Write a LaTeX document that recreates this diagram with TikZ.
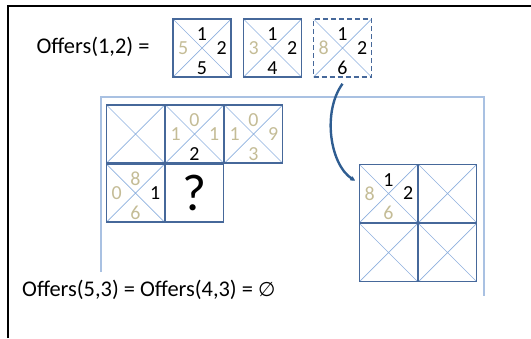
\documentclass[tikz,border=0pt]{standalone}
\usepackage{fontspec}
\setmainfont{Carlito}
\newfontfamily\symfont{DejaVu Sans}
\usepackage{tikz}
\usepackage{xcolor}
\usetikzlibrary{arrows,arrows.meta,positioning}

\definecolor{boxblue}{HTML}{46689A}
\definecolor{diagblue}{HTML}{8DB0DE}
\definecolor{bracketblue}{HTML}{A9C1E2}
\definecolor{tannum}{HTML}{C4BC96}
\definecolor{arrowblue}{HTML}{2F5D91}

\begin{document}
\begin{tikzpicture}[x=1bp,y=-1bp,every node/.style={inner sep=0pt},
xcell/.style={draw=boxblue,line width=1.5bp,minimum size=58bp,
 path picture={\draw[diagblue,line width=0.7bp,solid]
 (path picture bounding box.north west) -- (path picture bounding box.south east)
 (path picture bounding box.north east) -- (path picture bounding box.south west);}},
num/.style={font=\fontsize{20}{20}\selectfont},
tan/.style={num,text=tannum},
lbl/.style={font=\fontsize{22.5}{22.5}\selectfont}]
\useasboundingbox (0,0) rectangle (531,338);
% frame and bracket
\draw[black,line width=2.6bp] (8,338) -- (8,6) -- (531,6);
\draw[bracketblue,line width=2.6bp] (101,272) -- (101,97) -- (484,97) -- (484,296);
% Offers(1,2)
\node[lbl] (offa) at (93,47) {Offers(1,2) =};
\node (b1) at (202,48) [xcell] {};
\node (b2) at (272.5,48) [xcell] {};
\node (b3) at (342.5,48) [xcell,dash pattern=on 5bp off 3bp] {};
\node[num] (b1t) at ([yshift=-16bp]b1.north) {1};
\node[num] (b1r) at ([xshift=-10bp]b1.east) {2};
\node[num] (b1b) at ([yshift=10bp]b1.south) {5};
\node[tan] (b1l) at ([xshift=11bp]b1.west) {5};
\node[num] (b2t) at ([yshift=-16bp]b2.north) {1};
\node[num] (b2r) at ([xshift=-10bp]b2.east) {2};
\node[num] (b2b) at ([yshift=10bp]b2.south) {4};
\node[tan] (b2l) at ([xshift=11bp]b2.west) {3};
\node[num] (b3t) at ([yshift=-16bp]b3.north) {1};
\node[num] (b3r) at ([xshift=-10bp]b3.east) {2};
\node[num] (b3b) at ([yshift=10bp]b3.south) {6};
\node[tan] (b3l) at ([xshift=11bp]b3.west) {8};
% left grid
\node (g11) at (135.5,134) [xcell] {};
\node (g12) at (194.5,134) [xcell] {};
\node (g13) at (253.5,134) [xcell] {};
\node (g21) at (135.5,193) [xcell] {};
\node (g22) at (194.5,193) [draw=boxblue,line width=1.5bp,minimum size=58bp] {};
\node[tan] (g12t) at ([yshift=-16bp]g12.north) {0};
\node[tan] (g12r) at ([xshift=-10bp]g12.east) {1};
\node[num] (g12b) at ([yshift=10bp]g12.south) {2};
\node[tan] (g12l) at ([xshift=11bp]g12.west) {1};
\node[tan] (g13t) at ([yshift=-16bp]g13.north) {0};
\node[tan] (g13r) at ([xshift=-10bp]g13.east) {9};
\node[tan] (g13b) at ([yshift=10bp]g13.south) {3};
\node[tan] (g13l) at ([xshift=11bp]g13.west) {1};
\node[tan] (g21t) at ([yshift=-16bp]g21.north) {8};
\node[num] (g21r) at ([xshift=-10bp]g21.east) {1};
\node[tan] (g21b) at ([yshift=10bp]g21.south) {6};
\node[tan] (g21l) at ([xshift=11bp]g21.west) {0};
\node[font=\fontsize{52}{52}\selectfont] (qm) at (g22.center) {?};
% right grid
\node (r11) at (388.5,193.5) [xcell] {};
\node (r12) at (447.5,193.5) [xcell] {};
\node (r21) at (388.5,252.5) [xcell] {};
\node (r22) at (447.5,252.5) [xcell] {};
\node[num] (r11t) at ([yshift=-16bp]r11.north) {1};
\node[num] (r11r) at ([xshift=-10bp]r11.east) {2};
\node[tan] (r11b) at ([yshift=10bp]r11.south) {6};
\node[tan] (r11l) at ([xshift=11bp]r11.west) {8};
% arrow
\draw[arrowblue,line width=2.4bp,-{Stealth[round,length=6bp,width=6bp]}]
 ([yshift=-6bp]b3.south) .. controls (322,112) and (330,165) .. ([xshift=-4bp,yshift=13bp]r11.west);
% Offers(5,3)
\node[lbl,anchor=west] (offb) at (22,290) {Offers(5,3) = Offers(4,3) = {\symfont\fontsize{20}{20}\selectfont ∅}};
\end{tikzpicture}
\end{document}
